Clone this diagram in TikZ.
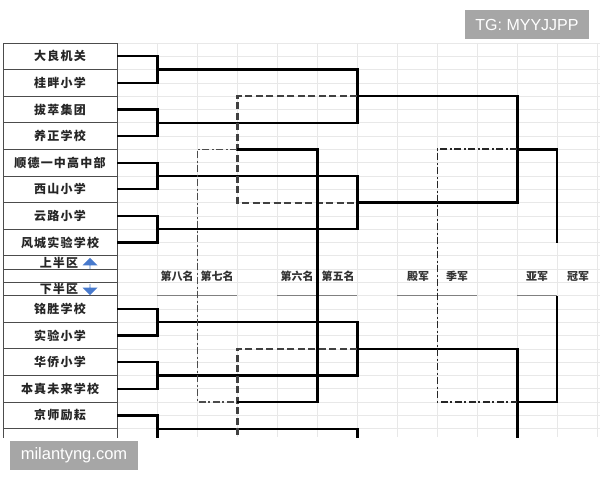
\documentclass[tikz,border=0pt]{standalone}
\usepackage{fontspec}
\newfontfamily\cjk{Noto Sans CJK SC}[LetterSpace=10]
\newfontfamily\cjkr{Noto Sans CJK SC}
\newfontfamily\wmfont{Liberation Sans}
\usepackage{xcolor}
\usepackage{tikz}
\usetikzlibrary{
  calc,
  positioning,
  shapes.arrows
}
\definecolor{gridgray}{RGB}{232,232,232}
\definecolor{arrowblue}{RGB}{72,122,205}
\definecolor{wmgray}{RGB}{166,166,166}
\tikzset{
  teamtext/.style={
    inner sep=0pt,
    text=black!85,
    font=\cjk\bfseries\fontsize{12}{13}\selectfont},
  team/.style={
    teamtext,
    draw=black!70,
    line width=0.9pt,
    minimum width=114pt,
    minimum height=26.6pt},
  halfrow/.style={team, minimum height=13.3pt},
  win/.style={line width=2.3pt},
  lose/.style={line width=2.1pt, draw=black!75, dash pattern=on 7pt off 3.5pt},
  place/.style={line width=1.9pt, draw=black!85, dash pattern=on 7pt off 2.5pt on 2pt off 2.5pt},
  rank/.style={text=black!80, font=\cjkr\bfseries\fontsize{11}{12}\selectfont},
  rankline/.style={draw=black!50, line width=1.1pt},
  gridline/.style={draw=gridgray, line width=0.7pt},
  blockarrow/.style={
    single arrow,
    fill=arrowblue,
    draw=none,
    inner sep=0pt,
    minimum height=11pt,
    minimum width=15pt,
    single arrow head extend=3pt},
  wmbox/.style={fill=wmgray, text=white, inner sep=0pt}
}

\begin{document}
\begin{tikzpicture}[x=1pt, y=-1pt]
  \useasboundingbox [fill=white] (0,0) rectangle (600,480);
  \begin{scope}
    \clip (0,0) rectangle (600,437);
    \foreach \x in {117,157,...,597}
      \draw [gridline] (\x,43) -- (\x,437);
    \foreach \i in {0,...,29}
      \draw [gridline] (117,{43+13.3*\i}) -- (600,{43+13.3*\i});

    \node [team] (t1) at (60,56.3) {大良机关};
    \node [team] (t2) at (60,82.9) {桂畔小学};
    \node [team] (t3) at (60,109.5) {拔萃集团};
    \node [team] (t4) at (60,136.1) {养正学校};
    \node [team] (t5) at (60,162.7) {顺德一中高中部};
    \node [team] (t6) at (60,189.3) {西山小学};
    \node [team] (t7) at (60,215.9) {云路小学};
    \node [team] (t8) at (60,242.5) {风城实验学校};
    \node [halfrow] (h1) at (60,262.5) {};
    \node [halfrow] (h2) at (60,275.8) {};
    \node [halfrow] (h3) at (60,289.1) {};
    \node [team] (t9) at (60,309) {铭胜学校};
    \node [team] (t10) at (60,335.6) {实验小学};
    \node [team] (t11) at (60,362.2) {华侨小学};
    \node [team] (t12) at (60,388.8) {本真未来学校};
    \node [team] (t13) at (60,415.4) {京师励耘};
    \node [team] (t14) at (60,442) {};

    \node [teamtext] (upper) at (59,262.7) {上半区};
    \node [blockarrow, rotate=90] (up) at (90,263.5) {};
    \node [teamtext] (lower) at (59,289.3) {下半区};
    \node [blockarrow, rotate=-90] (dn) at (90,289.5) {};

    \node [rank] (r8) at (177,276) {第八名};
    \node [rank] (r7) at (217,276) {第七名};
    \node [rank] (r6) at (297,276) {第六名};
    \node [rank] (r5) at (338,276) {第五名};
    \node [rank] (r4) at (418,276) {殿军};
    \node [rank] (r3) at (457,276) {季军};
    \node [rank] (r2) at (537,276) {亚军};
    \node [rank] (r1) at (578,276) {冠军};
    \draw [rankline] (157,295.7) -- (237,295.7);
    \draw [rankline] (277,295.7) -- (357,295.7);
    \draw [rankline] (397,295.7) -- (477,295.7);
    \draw [rankline] (517,295.7) -- (557,295.7);

    \draw [win] (t1.east) -- ++(40,0) |- (t2.east);
    \draw [win] (t3.east) -- ++(40,0) |- (t4.east);
    \draw [win] (t5.east) -- ++(40,0) |- (t6.east);
    \draw [win] (t7.east) -- ++(40,0) |- (t8.east);
    \draw [win] (t9.east) -- ++(40,0) |- (t10.east);
    \draw [win] (t11.east) -- ++(40,0) |- (t12.east);
    \draw [win] (t13.east) -- ++(40,0) |- (t14.east);
    \coordinate (q1) at ($(t1.east)!.5!(t2.east)+(40,0)$);
    \coordinate (q2) at ($(t3.east)!.5!(t4.east)+(40,0)$);
    \coordinate (q3) at ($(t5.east)!.5!(t6.east)+(40,0)$);
    \coordinate (q4) at ($(t7.east)!.5!(t8.east)+(40,0)$);
    \coordinate (q5) at ($(t9.east)!.5!(t10.east)+(40,0)$);
    \coordinate (q6) at ($(t11.east)!.5!(t12.east)+(40,0)$);
    \coordinate (q7) at ($(t13.east)!.5!(t14.east)+(40,0)$);
    \coordinate (q8) at ($(q7)+(0,53.2)$);

    \draw [win] (q1) -- ++(200,0) |- (q2);
    \draw [win] (q3) -- ++(200,0) |- (q4);
    \draw [win] (q5) -- ++(200,0) |- (q6);
    \draw [win] (q7) -- ++(200,0) |- (q8);
    \coordinate (s1) at ($(q1)!.5!(q2)+(200,0)$);
    \coordinate (s2) at ($(q3)!.5!(q4)+(200,0)$);
    \coordinate (s3) at ($(q5)!.5!(q6)+(200,0)$);
    \coordinate (s4) at ($(q7)!.5!(q8)+(200,0)$);

    \draw [lose] (s1) -- ++(-120,0) |- (s2);
    \draw [lose] (s3) -- ++(-120,0) |- (s4);
    \coordinate (l1) at ($(s1)!.5!(s2)+(-120,0)$);
    \coordinate (l2) at ($(s3)!.5!(s4)+(-120,0)$);
    \draw [place, line width=1.4pt, draw=black!70] (l1) -- ++(-40,0) |- (l2);
    \draw [win] (l1) -- ++(80,0) |- (l2);

    \draw [win] (s1) -- ++(160,0) |- (s2);
    \draw [win] (s3) -- ++(160,0) |- (s4);
    \coordinate (f1) at ($(s1)!.5!(s2)+(160,0)$);
    \coordinate (f2) at ($(s3)!.5!(s4)+(160,0)$);
    \draw [place] (f1) -- ++(-80,0) |- (f2);
    \coordinate (fa) at (557,243);
    \coordinate (fb) at (557,295.7);
    \draw [win] (f1) -| (fa);
    \draw [win] (f2) -| (fb);
  \end{scope}

  \node [wmbox, minimum width=124pt, minimum height=29pt,
    font=\wmfont\fontsize{16}{18}\selectfont] (tg) at (527,24.5) {TG: MYYJJPP};
  \node [wmbox, minimum width=128pt, minimum height=29pt,
    font=\wmfont\fontsize{16.5}{18}\selectfont] (site) at (74,455.5) {milantyng.com};
\end{tikzpicture}
\end{document}
